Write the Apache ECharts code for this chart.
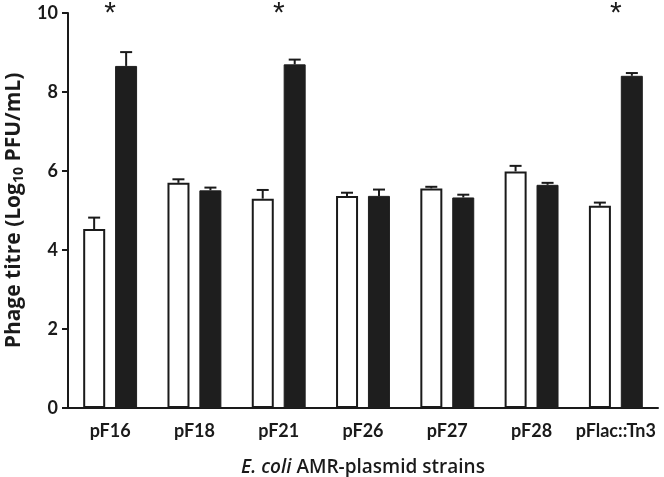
<!DOCTYPE html>
<html>
<head>
<meta charset="utf-8">
<script src="https://cdn.jsdelivr.net/npm/echarts@6/dist/echarts.min.js"></script>
<style>html,body{margin:0;padding:0;background:#fff;}#c{width:664px;height:477px;}</style>
</head>
<body>
<div id="c"></div>
<script>
const categories = ['pF16', 'pF18', 'pF21', 'pF26', 'pF27', 'pF28', 'pFlac::Tn3'];
const whiteValues = [4.53, 5.70, 5.30, 5.37, 5.56, 5.99, 5.12];
const whiteErrTop = [4.82, 5.79, 5.52, 5.45, 5.60, 6.13, 5.20];
const blackValues = [8.66, 5.51, 8.70, 5.37, 5.33, 5.65, 8.41];
const blackErrTop = [9.01, 5.58, 8.82, 5.53, 5.40, 5.70, 8.48];
const significance = ['*', '', '*', '', '', '', '*'];
const yTicks = [0, 2, 4, 6, 8, 10];

const FONT = 'Lato';
const TFONT = 'Open Sans';
const BAR_W = 22;
const HALF_OFF = 16;

function errSeries(vals, tops, off) {
  return {
    type: 'custom',
    z: 5,
    data: vals.map((v, i) => [i, v, tops[i]]),
    renderItem: function (params, api) {
      const b = api.coord([api.value(0), api.value(1)]);
      const t = api.coord([api.value(0), api.value(2)]);
      const cx = b[0] + off;
      const st = { stroke: '#1a1a1a', lineWidth: 2 };
      return {
        type: 'group',
        children: [
          { type: 'line', shape: { x1: cx, y1: b[1], x2: cx, y2: t[1] }, style: st },
          { type: 'line', shape: { x1: cx - 6, y1: t[1], x2: cx + 6, y2: t[1] }, style: st }
        ]
      };
    }
  };
}

const chart = echarts.init(document.getElementById('c'));
chart.setOption({
  animation: false,
  backgroundColor: '#fff',
  grid: { left: 68, right: 6, top: 13, bottom: 69, containLabel: false, outerBoundsMode: 'none' },
  xAxis: {
    type: 'category',
    data: categories,
    axisLine: { lineStyle: { color: '#1a1a1a', width: 2 } },
    axisTick: { alignWithLabel: true, length: 6, lineStyle: { color: '#1a1a1a', width: 2 } },
    axisLabel: { interval: 0, color: '#1a1a1a', fontFamily: FONT, fontWeight: 'bold', fontSize: 18, margin: 14 },
    name: '{i|E. coli} {n|AMR-plasmid strains}',
    nameLocation: 'middle',
    nameGap: 50,
    nameTextStyle: {
      fontFamily: TFONT, fontWeight: 600, fontSize: 19, color: '#1a1a1a',
      rich: {
        i: { fontFamily: TFONT, fontStyle: 'italic', fontWeight: 600, fontSize: 19, color: '#1a1a1a' },
        n: { fontFamily: TFONT, fontWeight: 600, fontSize: 19, color: '#1a1a1a' }
      }
    }
  },
  yAxis: {
    type: 'value',
    min: 0, max: 10, interval: 2,
    splitLine: { show: false },
    axisLine: { show: true, lineStyle: { color: '#1a1a1a', width: 2 } },
    axisTick: { show: true, length: 6, lineStyle: { color: '#1a1a1a', width: 2 } },
    axisLabel: {
      color: '#1a1a1a', fontFamily: FONT, fontWeight: 'bold', fontSize: 18, margin: 10,
      formatter: v => yTicks.includes(v) ? String(v) : ''
    },
    name: '{a|Phage titre (Log}{s|10}{a| PFU/mL)}',
    nameLocation: 'middle',
    nameGap: 41,
    nameTextStyle: {
      fontFamily: TFONT, fontWeight: 'bold', fontSize: 21, color: '#1a1a1a',
      rich: {
        a: { fontFamily: TFONT, fontWeight: 'bold', fontSize: 21, color: '#1a1a1a', lineHeight: 25 },
        s: { fontFamily: TFONT, fontWeight: 'bold', fontSize: 14, color: '#1a1a1a', verticalAlign: 'bottom', lineHeight: 14, padding: [9, 0, 0, 0] }
      }
    }
  },
  series: [
    {
      type: 'bar', data: whiteValues, barWidth: BAR_W, barGap: '45%',
      itemStyle: { color: '#ffffff', borderColor: '#1a1a1a', borderWidth: 2 }
    },
    {
      type: 'bar', data: blackValues, barWidth: BAR_W, barGap: '45%',
      itemStyle: { color: '#1e1e1e', borderColor: '#1e1e1e', borderWidth: 1 }
    },
    errSeries(whiteValues, whiteErrTop, -HALF_OFF),
    errSeries(blackValues, blackErrTop, HALF_OFF),
    {
      type: 'custom',
      z: 6,
      data: significance.map((s, i) => [i, 10, s]),
      renderItem: function (params, api) {
        const p = api.coord([api.value(0), api.value(1)]);
        return {
          type: 'text',
          style: {
            text: significance[params.dataIndex],
            x: p[0], y: p[1] + 1,
            fontFamily: 'Liberation Sans', fontSize: 30, fill: '#1a1a1a',
            textAlign: 'center', textVerticalAlign: 'middle'
          }
        };
      }
    }
  ]
});
</script>
</body>
</html>
